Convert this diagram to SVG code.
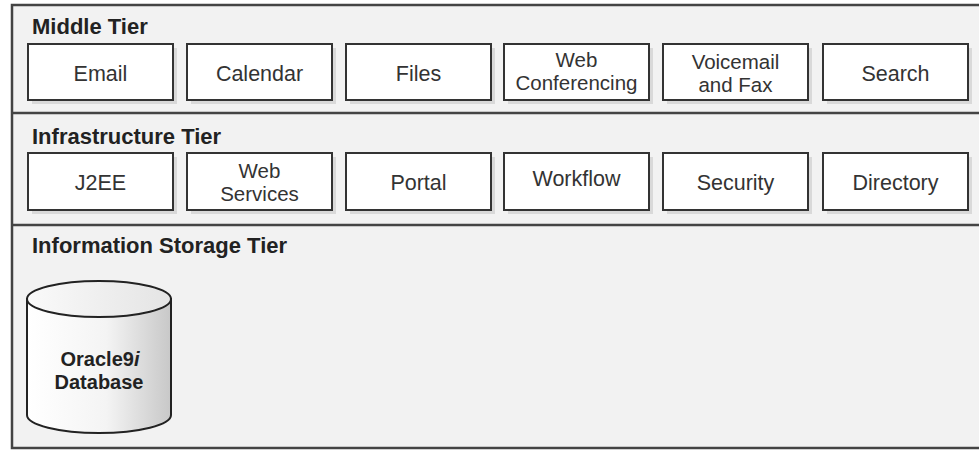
<svg xmlns="http://www.w3.org/2000/svg" width="979" height="451" viewBox="0 0 979 451">
<defs>
<style>
.tier{font-family:"Liberation Sans",Arial,sans-serif;font-weight:bold;font-size:22px;fill:#222}
.lbl{font-family:"Liberation Sans",Arial,sans-serif;font-size:21.5px;fill:#333;text-anchor:middle}
.lbl2{font-family:"Liberation Sans",Arial,sans-serif;font-size:20.5px;fill:#333;text-anchor:middle}
.box{fill:#fff;stroke:#333;stroke-width:2}
.sh{fill:#d9d9d9}
.div{stroke:#444;stroke-width:2.5;fill:none}
.db{font-family:"Liberation Sans",Arial,sans-serif;font-weight:bold;font-size:20px;fill:#222;text-anchor:middle}
</style>
<linearGradient id="cyl" x1="0" y1="0" x2="1" y2="0">
<stop offset="0" stop-color="#ffffff"/>
<stop offset="0.55" stop-color="#f4f4f4"/>
<stop offset="1" stop-color="#c8c8c8"/>
</linearGradient>
<linearGradient id="cyltop" x1="0" y1="0" x2="1" y2="0">
<stop offset="0" stop-color="#fafafa"/>
<stop offset="1" stop-color="#e4e4e4"/>
</linearGradient>
</defs>
<rect x="0" y="0" width="979" height="451" fill="#fff"/>
<rect x="12" y="5" width="990" height="443" fill="#f2f2f2" stroke="#444" stroke-width="2.5"/>
<line class="div" x1="12" y1="113" x2="979" y2="113"/>
<line class="div" x1="12" y1="225" x2="979" y2="225"/>

<g id="middle-tier">
<text class="tier" x="32" y="34">Middle Tier</text>
</g>
<g id="infrastructure-tier">
<text class="tier" x="32" y="144">Infrastructure Tier</text>
</g>
<g id="storage-tier">
<text class="tier" x="32" y="253">Information Storage Tier</text>
</g>

<g id="email"><rect class="sh" x="32" y="48" width="145" height="56"/><rect class="box" x="28" y="44" width="145" height="56"/><text class="lbl" x="100.5" y="81">Email</text></g>
<g id="calendar"><rect class="sh" x="191" y="48" width="145" height="56"/><rect class="box" x="187" y="44" width="145" height="56"/><text class="lbl" x="259.5" y="81">Calendar</text></g>
<g id="files"><rect class="sh" x="350" y="48" width="145" height="56"/><rect class="box" x="346" y="44" width="145" height="56"/><text class="lbl" x="418.5" y="81">Files</text></g>
<g id="web-conferencing"><rect class="sh" x="508" y="48" width="145" height="56"/><rect class="box" x="504" y="44" width="145" height="56"/><text class="lbl2" x="576.5" y="67">Web</text><text class="lbl2" x="576.5" y="90">Conferencing</text></g>
<g id="voicemail"><rect class="sh" x="667" y="48" width="145" height="56"/><rect class="box" x="663" y="44" width="145" height="56"/><text class="lbl2" x="735.5" y="69">Voicemail</text><text class="lbl2" x="735.5" y="92">and Fax</text></g>
<g id="search"><rect class="sh" x="827" y="48" width="145" height="56"/><rect class="box" x="823" y="44" width="145" height="56"/><text class="lbl" x="895.5" y="81">Search</text></g>

<g id="j2ee"><rect class="sh" x="32" y="157" width="145" height="57"/><rect class="box" x="28" y="153" width="145" height="57"/><text class="lbl" x="100.5" y="190">J2EE</text></g>
<g id="web-services"><rect class="sh" x="191" y="157" width="145" height="57"/><rect class="box" x="187" y="153" width="145" height="57"/><text class="lbl2" x="259.5" y="178">Web</text><text class="lbl2" x="259.5" y="201">Services</text></g>
<g id="portal"><rect class="sh" x="350" y="157" width="145" height="57"/><rect class="box" x="346" y="153" width="145" height="57"/><text class="lbl" x="418.5" y="190">Portal</text></g>
<g id="workflow"><rect class="sh" x="508" y="157" width="145" height="57"/><rect class="box" x="504" y="153" width="145" height="57"/><text class="lbl" x="576.5" y="186">Workflow</text></g>
<g id="security"><rect class="sh" x="667" y="157" width="145" height="57"/><rect class="box" x="663" y="153" width="145" height="57"/><text class="lbl" x="735.5" y="190">Security</text></g>
<g id="directory"><rect class="sh" x="827" y="157" width="145" height="57"/><rect class="box" x="823" y="153" width="145" height="57"/><text class="lbl" x="895.5" y="190">Directory</text></g>

<g id="oracle-db">
<path d="M27 299 L27 415 A72 18 0 0 0 171 415 L171 299 Z" fill="url(#cyl)" stroke="#222" stroke-width="2"/>
<ellipse cx="99" cy="299" rx="72" ry="18" fill="url(#cyltop)" stroke="#222" stroke-width="2"/>
<text class="db" x="100" y="366">Oracle9<tspan font-style="italic">i</tspan></text>
<text class="db" x="99" y="389">Database</text>
</g>
<g id="connectors"></g>
</svg>
